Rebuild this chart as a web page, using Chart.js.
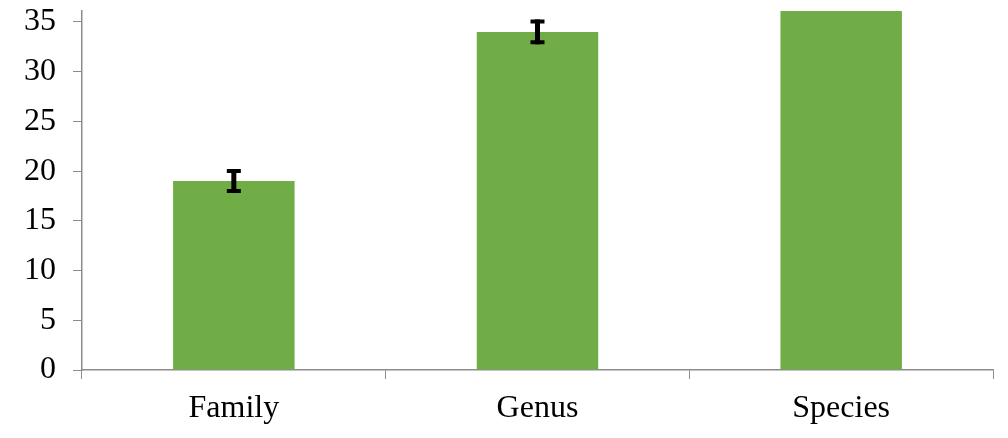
<!DOCTYPE html>
<html>
<head>
<meta charset="utf-8">
<script src="https://cdn.jsdelivr.net/npm/chart.js@4/dist/chart.umd.min.js"></script>
<style>
  html,body{margin:0;padding:0;background:#fff;}
  #wrap{width:1008px;height:438px;}
</style>
</head>
<body>
<div id="wrap"><canvas id="chart"></canvas></div>
<script>
const categories=["Family","Genus","Species"];
const values=[19.0,34.0,40.0];
const errors=[1.2,1.25,null];
const yTicks=[0,5,10,15,20,25,30,35];
const yMax=36.1;

// draws the I-shaped error bars on top of the bars
const errorBars={
  id:'errorBars',
  afterDatasetsDraw(chart){
    const ctx=chart.ctx, y=chart.scales.y, area=chart.chartArea;
    const meta=chart.getDatasetMeta(0);
    ctx.save();
    ctx.strokeStyle='#000';
    meta.data.forEach((bar,i)=>{
      const e=errors[i];
      if(e==null) return;
      const top=y.getPixelForValue(values[i]+e);
      const bot=y.getPixelForValue(values[i]-e);
      if(top<area.top) return;
      ctx.lineWidth=5;
      ctx.beginPath();
      ctx.moveTo(bar.x,top);ctx.lineTo(bar.x,bot);
      ctx.stroke();
      ctx.lineWidth=4;
      ctx.beginPath();
      ctx.moveTo(bar.x-7,top+2);ctx.lineTo(bar.x+7,top+2);
      ctx.moveTo(bar.x-7,bot-2);ctx.lineTo(bar.x+7,bot-2);
      ctx.stroke();
    });
    ctx.restore();
  }
};

new Chart(document.getElementById('chart').getContext('2d'),{
  type:'bar',
  data:{labels:categories,datasets:[{data:values,backgroundColor:'#70ad47',categoryPercentage:1,barPercentage:0.4}]},
  options:{
    responsive:true,maintainAspectRatio:false,animation:false,
    layout:{padding:{top:11,right:15,left:0,bottom:0}},
    plugins:{legend:{display:false},tooltip:{enabled:false}},
    scales:{
      x:{
        grid:{drawOnChartArea:false,color:'#8c8c8c',tickLength:9,offset:true},
        border:{color:'#8c8c8c',width:1.5},
        ticks:{color:'#000',font:{family:'"Liberation Serif"',size:32},padding:10},
        afterFit(s){s.height=68;s.paddingLeft=0;s.paddingRight=0;}
      },
      y:{
        min:0,max:yMax,
        grid:{drawOnChartArea:false,color:'#8c8c8c',tickLength:9},
        border:{color:'#8c8c8c',width:1.5},
        ticks:{color:'#000',font:{family:'"Liberation Serif"',size:32},padding:17},
        afterBuildTicks(s){s.ticks=yTicks.map(v=>({value:v}));},
        afterFit(s){s.width=82;s.paddingTop=0;s.paddingBottom=0;}
      }
    }
  },
  plugins:[errorBars]
});
</script>
</body>
</html>
